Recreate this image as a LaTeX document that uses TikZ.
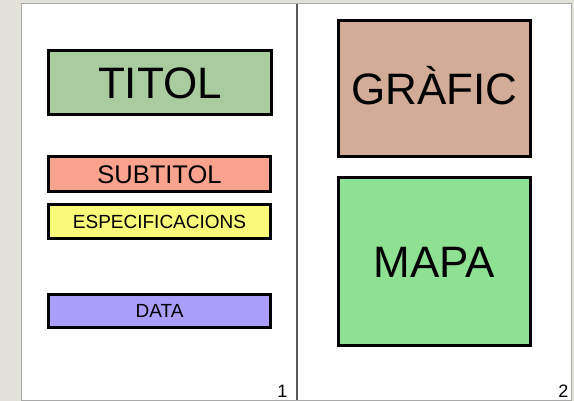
\documentclass[tikz,border=0pt]{standalone}
\usepackage{fontspec}
\setmainfont{Liberation Sans}
\definecolor{bgbeige}{HTML}{E3E2D9}
\definecolor{panelborder}{HTML}{A8A8A8}
\definecolor{divider}{HTML}{5A5A5A}
\definecolor{titolc}{HTML}{A9CC9F}
\definecolor{subtitolc}{HTML}{F9A38E}
\definecolor{espc}{HTML}{F9F97A}
\definecolor{datac}{HTML}{AA9EFA}
\definecolor{graficc}{HTML}{D2AC96}
\definecolor{mapac}{HTML}{8EE093}
\tikzset{
  boxnode/.style={draw=black, line width=3pt, rectangle, inner sep=0pt, text depth=0pt, text=black},
  bigtext/.style={font=\fontsize{44}{48}\selectfont, text height=31.5pt},
  midtext/.style={font=\fontsize{25.5}{28}\selectfont, text height=18.3pt},
  smalltext/.style={font=\fontsize{19}{22}\selectfont, text height=13.6pt},
  pagenum/.style={font=\fontsize{18}{20}\selectfont, inner sep=0pt, anchor=base east}
}
\begin{document}
\begin{tikzpicture}[x=1pt,y=-1pt]
\useasboundingbox (0,0) rectangle (574,401);
\fill[bgbeige] (0,0) rectangle (574,401);
\fill[white] (21,4) rectangle (571,400);
\draw[panelborder, line width=1pt] (21,4) rectangle (571,400);
\coordinate (dtop) at (297,4);
\coordinate (dbot) at (297,400);
\draw[divider, line width=1.2pt] (dtop) -- (dbot);
% left page
\node[boxnode, bigtext, fill=titolc, minimum width=223pt, minimum height=64pt] (titol) at (160,82.5) {TITOL};
\node[boxnode, midtext, fill=subtitolc, minimum width=222pt, minimum height=35pt] (subtitol) at (159.5,174) {SUBTITOL};
\node[boxnode, smalltext, fill=espc, minimum width=222pt, minimum height=34pt] (espec) at (159.5,221.5) {ESPECIFICACIONS};
\node[boxnode, smalltext, fill=datac, minimum width=222pt, minimum height=33pt] (data) at (159.5,311) {DATA};
% right page
\node[boxnode, bigtext, fill=graficc, minimum width=192pt, minimum height=136pt] (grafic) at (434.5,88.5) {GRÀFIC};
\node[boxnode, bigtext, fill=mapac, minimum width=192pt, minimum height=168pt] (mapa) at (434.5,262) {MAPA};
% page numbers
\node[pagenum] (p1) at (287.5,397) {1};
\node[pagenum] (p2) at (568.5,397) {2};
\end{tikzpicture}
\end{document}
